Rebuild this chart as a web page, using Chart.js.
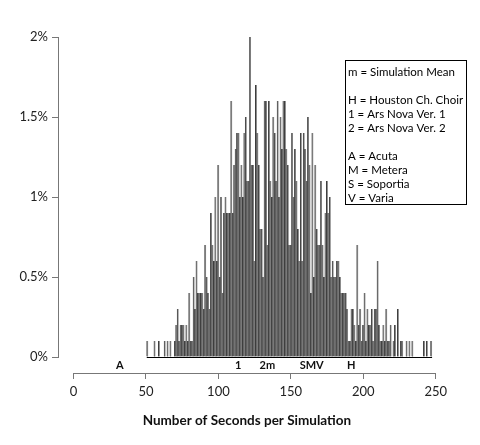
<!DOCTYPE html>
<html>
<head>
<meta charset="utf-8">
<script src="https://cdn.jsdelivr.net/npm/chart.js@4.4.1/dist/chart.umd.min.js"></script>
<style>
  html, body { margin: 0; padding: 0; background: #fff; }
  #wrap { width: 480px; height: 445px; }
</style>
</head>
<body>
<div id="wrap"><canvas id="hist"></canvas></div>
<script>
// share of simulations (%) in each 1-second bin, first bin = firstSecond
const firstSecond = 51;
const shares = [
  0.1, 0, 0, 0, 0, 0.1, 0, 0, 0.1, 0, 0, 0, 0.1, 0, 0.1, 0, 0.1, 0, 0, 0.1,
  0.2, 0.3, 0.1, 0.2, 0.2, 0.2, 0.1, 0.2, 0.1, 0.4, 0.1, 0.1, 0.5, 0.3, 0.6, 0.4, 0.4, 0.4, 0.4, 0.3,
  0.7, 0.5, 0.4, 0.3, 0.9, 0.7, 0.6, 1.0, 0.6, 1.2, 0.5, 1.0, 0.4, 0.9, 1.0, 0.9, 0.9, 0.9, 1.6, 0.9,
  1.2, 1.3, 1.4, 1.4, 1.0, 1.2, 1.0, 1.4, 1.5, 1.1, 1.1, 2.0, 1.2, 1.2, 0.6, 1.7, 1.4, 1.2, 0.8, 0.8,
  0.5, 1.6, 1.6, 0.7, 1.6, 1.1, 1.0, 1.5, 1.4, 1.1, 1.6, 1.0, 1.5, 1.3, 1.6, 1.6, 1.3, 1.2, 0.7, 0.7,
  1.4, 1.0, 1.3, 1.1, 0.8, 0.6, 1.4, 0.6, 1.4, 1.3, 1.1, 1.5, 1.2, 0.4, 1.4, 0.5, 1.2, 0.8, 0.7, 0.7,
  1.1, 0.7, 0.5, 0.9, 1.1, 0.9, 1.0, 0.5, 0.6, 0.5, 0.5, 0.6, 0.6, 0.5, 0.4, 0.4, 0.4, 0.4, 0.3, 0.1,
  0.1, 0.3, 0.3, 0.2, 0.1, 0.7, 0.2, 0.3, 0.1, 0.2, 0.4, 0.1, 0.3, 0.2, 0.2, 0.3, 0.1, 0.3, 0.3, 0.6,
  0.2, 0.1, 0.1, 0.2, 0.1, 0.3, 0.1, 0.1, 0.2, 0, 0.1, 0.2, 0, 0.3, 0, 0.1, 0.1, 0, 0, 0.1,
  0, 0.1, 0, 0.1, 0, 0, 0, 0, 0, 0, 0, 0.1, 0, 0.1, 0, 0, 0.1
];
const xTicks = [0, 50, 100, 150, 200, 250];
const yTicks = [0, 0.5, 1, 1.5, 2];
// choir markers under the bars
const markerText = ['A', '1', '2m', 'SMV', 'H'];
const markerSeconds = [32, 113.7, 133.8, 164.4, 191.7];
const legendLines = ['m = Simulation Mean', '', 'H = Houston Ch. Choir', '1 = Ars Nova Ver. 1',
  '2 = Ars Nova Ver. 2', '', 'A = Acuta', 'M = Metera', 'S = Soportia', 'V = Varia'];

const points = shares.map((s, i) => ({ x: firstSecond + i, y: s }));

const extras = {
  id: 'extras',
  afterDatasetsDraw(chart) {
    const { ctx, scales: { x, y } } = chart;
    ctx.save();
    // baseline under the histogram
    const by = Math.round(y.getPixelForValue(0)) + 0.5;
    ctx.strokeStyle = '#000';
    ctx.lineWidth = 1;
    ctx.beginPath();
    ctx.moveTo(x.getPixelForValue(firstSecond - 0.5), by);
    ctx.lineTo(x.getPixelForValue(firstSecond + shares.length - 0.5), by);
    ctx.stroke();

    // x axis line only over the tick range
    const ay = Math.round(y.getPixelForValue(-0.1)) + 0.5;
    ctx.strokeStyle = '#777';
    ctx.beginPath();
    ctx.moveTo(x.getPixelForValue(xTicks[0]), ay);
    ctx.lineTo(x.getPixelForValue(xTicks[xTicks.length - 1]), ay);
    ctx.stroke();

    ctx.font = 'bold 11px Lato';
    ctx.fillStyle = '#111';
    ctx.textAlign = 'center';
    ctx.textBaseline = 'middle';
    markerText.forEach((t, i) => {
      ctx.fillText(t, x.getPixelForValue(markerSeconds[i]), y.getPixelForValue(-0.055));
    });

    // legend box
    ctx.strokeStyle = '#000';
    ctx.strokeRect(345.5, 60.5, 121, 144);
    ctx.font = '11.5px Lato';
    ctx.textAlign = 'left';
    ctx.fillStyle = '#000';
    legendLines.forEach((t, i) => {
      if (t) ctx.fillText(t, 348, 72 + i * 14);
    });
    ctx.restore();
  }
};

new Chart(document.getElementById('hist').getContext('2d'), {
  type: 'bar',
  data: {
    datasets: [{
      data: points,
      backgroundColor: '#7c7c7c',
      borderColor: '#000',
      borderWidth: { left: 0.5, top: 0, right: 0, bottom: 0 },
      barPercentage: 1,
      categoryPercentage: 1,
    }],
  },
  options: {
    responsive: true,
    maintainAspectRatio: false,
    animation: false,
    layout: { padding: { left: 0, right: 44.3, top: 37, bottom: 88 } },
    scales: {
      x: {
        type: 'linear',
        min: -10.75,
        max: 250,
        offset: false,
        position: { y: -0.1 },
        afterBuildTicks: (s) => { s.ticks = xTicks.map((v) => ({ value: v })); },
        grid: { display: true, offset: false, drawOnChartArea: false, drawTicks: true, tickLength: 6, color: '#777' },
        border: { display: false },
        ticks: { color: '#222', font: { family: 'Lato', size: 13 }, padding: 5, maxRotation: 0 },
        title: {
          display: true,
          text: 'Number of Seconds per Simulation',
          color: '#111',
          font: { family: 'Lato', size: 13.5, weight: 'bold' },
          padding: { top: 8, bottom: 0 },
        },
      },
      y: {
        min: 0,
        max: 2,
        position: 'left',
        afterFit: (s) => { s.width = 58; },
        afterBuildTicks: (s) => { s.ticks = yTicks.map((v) => ({ value: v })); },
        grid: { display: true, drawOnChartArea: false, drawTicks: true, tickLength: 6, color: '#777' },
        border: { display: true, color: '#777' },
        ticks: {
          color: '#222',
          font: { family: 'Lato', size: 13 },
          padding: 4,
          callback: (v) => v + '%',
        },
      },
    },
    plugins: {
      legend: { display: false },
      tooltip: { enabled: false },
    },
  },
  plugins: [extras],
});
</script>
</body>
</html>
